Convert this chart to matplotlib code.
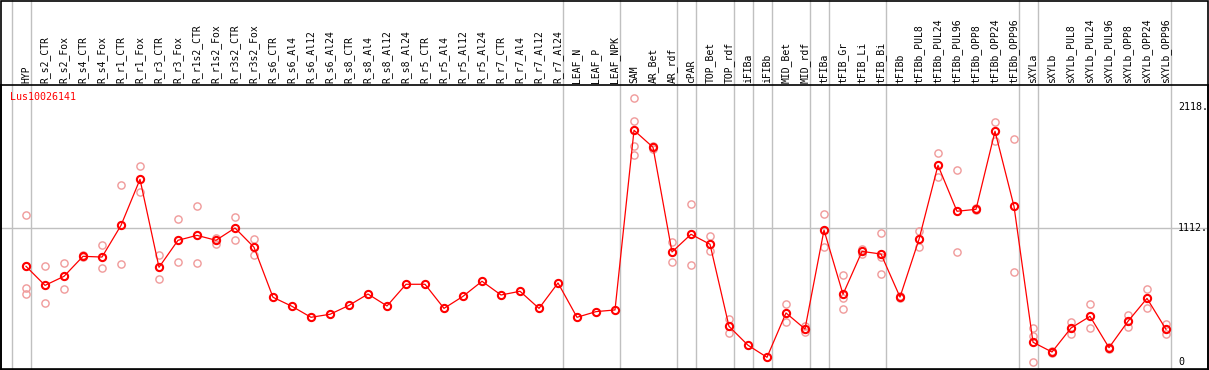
import matplotlib
matplotlib.use("Agg")
import matplotlib.pyplot as plt
import matplotlib.transforms as mtransforms
from matplotlib.patches import Rectangle

categories = ["HYP", "R_s2_CTR", "R_s2_Fox", "R_s4_CTR", "R_s4_Fox", "R_r1_CTR", "R_r1_Fox",
              "R_r3_CTR", "R_r3_Fox", "R_r1s2_CTR", "R_r1s2_Fox", "R_r3s2_CTR", "R_r3s2_Fox",
              "R_s6_CTR", "R_s6_Al4", "R_s6_Al12", "R_s6_Al24", "R_s8_CTR", "R_s8_Al4",
              "R_s8_Al12", "R_s8_Al24", "R_r5_CTR", "R_r5_Al4", "R_r5_Al12", "R_r5_Al24",
              "R_r7_CTR", "R_r7_Al4", "R_r7_Al12", "R_r7_Al24", "LEAF_N", "LEAF_P", "LEAF_NPK",
              "SAM", "AR_Bet", "AR_rdf", "cPAR", "TOP_Bet", "TOP_rdf", "iFIBa", "iFIBb",
              "MID_Bet", "MID_rdf", "tFIBa", "tFIB_Gr", "tFIB_Li", "tFIB_Bi", "tFIBb",
              "tFIBb_PUL8", "tFIBb_PUL24", "tFIBb_PUL96", "tFIBb_OPP8", "tFIBb_OPP24",
              "tFIBb_OPP96", "sXYLa", "sXYLb", "sXYLb_PUL8", "sXYLb_PUL24", "sXYLb_PUL96",
              "sXYLb_OPP8", "sXYLb_OPP24", "sXYLb_OPP96"]

mean_values = [794, 636, 711, 877, 871, 1134, 1516, 786, 1010, 1051, 1010, 1112, 952,
               537, 462, 371, 396, 470, 564, 465, 645, 645, 445, 545, 670, 556, 587, 445, 656,
               371, 418, 432, 1923, 1782, 913, 1060, 977, 296, 139, 39, 407, 274, 1095, 562,
               918, 896, 539, 1018, 1632, 1251, 1267, 1915, 1292, 164, 83, 282, 379, 119,
               338, 528, 271]

replicates = {
    "HYP": [1217, 794, 614, 562],
    "R_s2_CTR": [794, 487],
    "R_s2_Fox": [822, 603],
    "R_s4_CTR": [885, 869],
    "R_s4_Fox": [968, 777],
    "R_r1_CTR": [1466, 811],
    "R_r1_Fox": [1624, 1413],
    "R_r3_CTR": [885, 686],
    "R_r3_Fox": [1184, 827],
    "R_r1s2_CTR": [1292, 819],
    "R_r1s2_Fox": [1029, 982],
    "R_r3s2_CTR": [1201, 1010],
    "R_r3s2_Fox": [1021, 885],
    "SAM": [2191, 1998, 1790, 1715],
    "AR_Bet": [1795, 1770],
    "AR_rdf": [993, 827],
    "cPAR": [1309, 802],
    "TOP_Bet": [1043, 918],
    "TOP_rdf": [357, 238],
    "MID_Bet": [481, 329],
    "MID_rdf": [301, 246],
    "tFIBa": [1226, 952],
    "tFIB_Gr": [719, 534, 440],
    "tFIB_Li": [938, 894],
    "tFIB_Bi": [1068, 871, 728],
    "tFIBb": [547, 530],
    "tFIBb_PUL8": [1087, 952],
    "tFIBb_PUL24": [1732, 1533],
    "tFIBb_PUL96": [1591, 910],
    "tFIBb_OPP8": [1275, 1259],
    "tFIBb_OPP24": [1989, 1831],
    "tFIBb_OPP96": [1848, 747],
    "sXYLa": [282, 216, 0],
    "sXYLb": [90, 76],
    "sXYLb_PUL8": [332, 230],
    "sXYLb_PUL24": [479, 282],
    "sXYLb_PUL96": [125, 105],
    "sXYLb_OPP8": [387, 290],
    "sXYLb_OPP24": [603, 445],
    "sXYLb_OPP96": [318, 235],
}

separator_after = [-1, 0, 28, 31, 34, 35, 37, 38, 39, 41, 42, 45, 52, 53, 60]
ytick_values = [2118, 1112, 0]
ytick_labels = ["2118.", "1112.", "0"]
gene_name = "Lus10026141"

W, H = 1209, 370
fig = plt.figure(figsize=(W / 100, H / 100), dpi=100)
ax_left, ax_right = 1, 1208
ax_top, ax_bottom = 85, 368.5
ax = fig.add_axes([ax_left / W, (H - ax_bottom) / H, (ax_right - ax_left) / W, (ax_bottom - ax_top) / H])

x0, dx = 26, 19
ax.set_xlim((ax_left - x0) / dx, (ax_right - x0) / dx)
scale = 0.1205
y_zero = 362
ax.set_ylim((y_zero - ax_bottom) / scale, (y_zero - ax_top) / scale)
ax.set_xticks([])
ax.set_yticks([])
for s in ax.spines.values():
    s.set_color("black")
    s.set_linewidth(1.2)

grey = "#c0c0c0"
top_frac = ax_bottom / (ax_bottom - ax_top)
for i in separator_after:
    ax.axvline(i + 0.25, ymin=0, ymax=top_frac, color=grey, lw=1.0, clip_on=False, zorder=1)
ax.axhline(1112, color=grey, lw=1.0, zorder=1)

xs = list(range(len(categories)))
for i, c in enumerate(categories):
    if c in replicates:
        vals = replicates[c]
        ax.plot([i] * len(vals), vals, linestyle="none", marker="o", markersize=5.2,
                markerfacecolor="none", markeredgecolor="#f09a9a", markeredgewidth=1.0, zorder=2)

ax.plot(xs, mean_values, color="#ff0000", lw=0.9, zorder=3)
ax.plot(xs, mean_values, linestyle="none", marker="o", markersize=5.2,
        markerfacecolor="none", markeredgecolor="#ff0000", markeredgewidth=1.5, zorder=4)

trans = mtransforms.blended_transform_factory(ax.transData, ax.transAxes)
lab_y = (ax_bottom - 83) / (ax_bottom - ax_top)
for i, c in enumerate(categories):
    ax.text(i, lab_y, c, transform=trans, rotation=90, ha="center", va="bottom",
            family="DejaVu Sans Mono", fontsize=7, color="black", clip_on=False)

trans2 = mtransforms.blended_transform_factory(ax.transAxes, ax.transData)
for v, t in zip(ytick_values, ytick_labels):
    ax.text((1178 - ax_left) / (ax_right - ax_left), v, t, transform=trans2, ha="left", va="center",
            family="DejaVu Sans Mono", fontsize=7.2, color="black")

ax.text((10 - ax_left) / (ax_right - ax_left), 1 - (97 - ax_top) / (ax_bottom - ax_top), gene_name,
        transform=ax.transAxes, ha="left", va="center", family="DejaVu Sans Mono",
        fontsize=7.2, color="#ff0000")

fig.patches.append(Rectangle((0.5 / W, 0.5 / H), (W - 2) / W, (H - 1.5) / H, transform=fig.transFigure,
                             fill=False, edgecolor="black", lw=1.2))

fig.savefig("out.png", dpi=100, facecolor="white")
